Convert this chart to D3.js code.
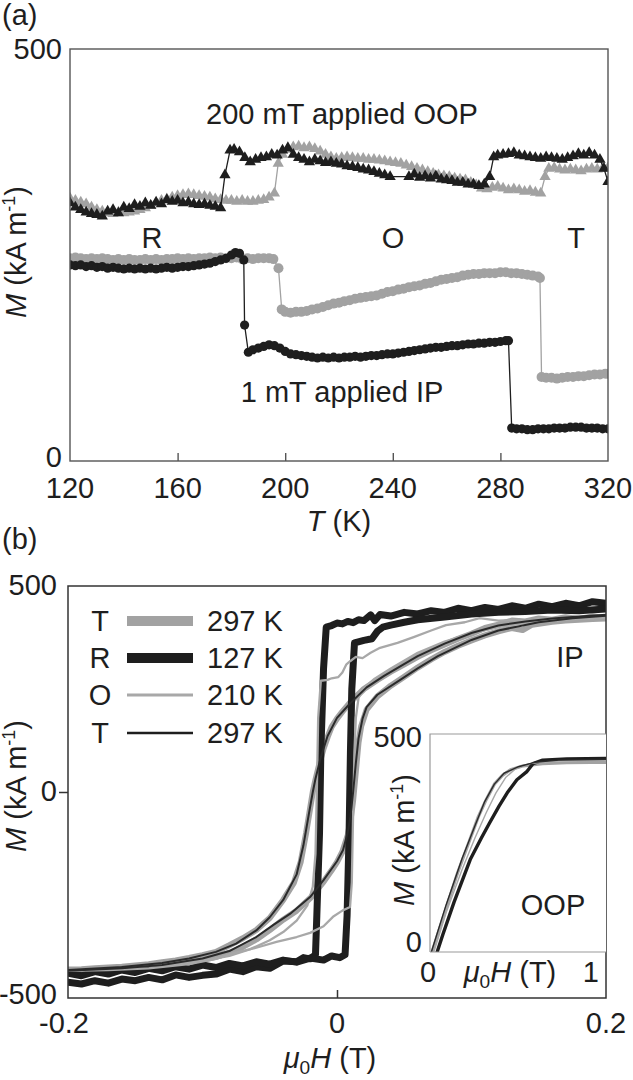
<!DOCTYPE html>
<html><head><meta charset="utf-8">
<script src="https://cdn.jsdelivr.net/npm/d3@7"></script>
<style>
body{margin:0;background:#fff}
svg{display:block}
text{font-family:"Liberation Sans",Arial,Helvetica,sans-serif;fill:#1e1e1e}
</style>
</head><body>
<svg id="chart" width="633" height="1080"></svg>
<script>
// ---------- Panel (a): M vs T ----------
const tTicksA = [120,160,200,240,280,320];
const mTicksA = [0,500];

const oopBlackT = [120,122,124,126,128,130,132,134,136,138,140,142,144,146,148,150,152,154,156,158,160,162,164,166,168,170,172,174,176,177.6,179.5,181,183,185,187,189,191,193,195,197,199,201,203,205,207,209,211,213,215,217,219,221,223,225,227,229,231,233,235,237,239,246,248,250,252,254,256,258,260,262,264,266,268,270,272,274,276,277.5,279,281,283,285,287,289,291,293,295,297,299,301,303,305,307,309,311,313,315,317,318.5,320];
const oopBlackM = [313,308,305,302,300,299,297,303,305,301,308,306,311,309,313,310,314,312,317,315,316,313,314,312,311,312,310,309,307,347,377,378,375,368,363,366,368,369,372,371,377,380,372,368,366,363,366,364,362,363,361,360,358,357,356,354,353,351,349,347,345,345,348,344,346,343,346,342,341,340,338,338,336,336,334,336,345,369,371,372,373,374,371,370,369,368,367,369,368,367,366,368,370,373,371,374,371,366,355,339];

const oopGrayT = [120,122,124,126,128,130,132,134,136,138,140,142,144,146,148,150,152,154,156,158,160,162,164,166,168,170,172,174,176,178,180,182,184,186,188,190,192,194,196,197.4,199,201,203,205,207,209,211,213,215,217,219,221,223,225,227,229,231,233,235,237,239,241,243,245,247,249,251,253,255,257,259,261,263,265,267,269,271,273,275,277,279,281,283,285,287,289,291,293,295,296.6,298,300,302,304,306,308,310,312,314,316,318,320];
const oopGrayM = [319,316,314,312,308,305,303,301,300,302,301,302,303,305,307,310,313,316,318,320,322,323,324,323,322,321,320,318,317,316,316,315,316,315,315,316,317,320,325,361,372,378,381,382,380,381,379,376,372,369,367,368,369,368,367,367,366,366,365,364,363,362,361,359,357,355,353,351,349,347,346,345,343,342,341,338,335,331,330,332,333,331,329,330,329,327,328,326,325,345,355,356,354,353,354,353,352,354,355,354,355,356];

const ipBlackT = [120,122,124,126,128,130,132,134,136,138,140,142,144,146,148,150,152,154,156,158,160,162,164,166,168,170,172,174,176,178,180,181.5,183,184.6,184.9,186.3,188,190,192,194,196,198,200,202,204,206,208,210,212,214,216,218,220,222,224,226,228,230,232,234,236,238,240,242,244,246,248,250,252,254,256,258,260,262,264,266,268,270,272,274,276,278,280,282,283,284.2,286,288,290,292,294,296,298,300,302,304,306,308,310,312,314,316,318,320];
const ipBlackM = [238,237,238,236,237,235,236,234,235,234,233,234,233,234,233,234,233,234,235,234,235,236,236,237,238,239,240,242,244,246,250,253,252,244,165,132,135,137,139,141,140,137,133,130,129,128,127,126,125,126,125,126,125,126,126,127,126,127,128,128,129,130,130,131,132,133,134,135,136,137,138,138,139,140,140,141,142,142,143,143,144,144,145,146,146,40,39,39,38,38,39,39,39,40,40,40,41,41,41,40,40,40,39,39];

const ipGrayT = [120,122,124,126,128,130,132,134,136,138,140,142,144,146,148,150,152,154,156,158,160,162,164,166,168,170,172,174,176,178,180,182,184,186,188,190,192,194,195.6,197.5,198.7,200,202,204,206,208,210,212,214,216,218,220,222,224,226,228,230,232,234,236,238,240,242,244,246,248,250,252,254,256,258,260,262,264,266,268,270,272,274,276,278,280,282,284,286,288,290,292,294,294.7,295.3,297,299,301,303,305,307,309,311,313,315,317,319,320];
const ipGrayM = [246,247,246,245,246,245,246,245,244,245,244,245,244,244,245,244,245,244,245,245,246,245,246,245,246,246,247,246,247,246,246,247,245,246,245,246,246,246,245,234,184,181,180,181,181,182,184,185,187,189,191,192,194,195,197,198,199,200,201,203,205,206,208,209,211,212,213,215,216,218,220,221,222,223,225,226,227,227,228,228,228,229,229,228,228,227,226,225,224,222,102,101,101,100,101,102,102,103,103,104,105,105,106,106];

// ---------- Panel (b): M vs mu0H, in-plane loops ----------
const hTicksB = [-0.2,0,0.2];
const mTicksB = [-500,0,500];

const t297GrayDesc = [[0.200,422],[0.190,426],[0.180,420],[0.170,424],[0.160,418],[0.150,421],[0.140,414],[0.130,416],[0.120,406],[0.110,398],[0.100,384],[0.090,372],[0.080,358],[0.070,344],[0.060,328],[0.050,310],[0.040,292],[0.030,272],[0.020,250],[0.010,218],[0.004,195],[0.000,178],[-0.004,158],[-0.007,133],[-0.010,105],[-0.013,70],[-0.016,30],[-0.018,0],[-0.020,-40],[-0.023,-100],[-0.027,-170],[-0.032,-220],[-0.040,-262],[-0.050,-306],[-0.060,-335],[-0.070,-355],[-0.080,-372],[-0.090,-388],[-0.100,-396],[-0.110,-403],[-0.120,-409],[-0.130,-413],[-0.140,-418],[-0.150,-421],[-0.160,-424],[-0.170,-426],[-0.180,-428],[-0.190,-430],[-0.200,-431]];
const t297GrayAsc = [[-0.200,-433],[-0.180,-431],[-0.160,-428],[-0.140,-424],[-0.120,-418],[-0.100,-408],[-0.090,-400],[-0.080,-390],[-0.070,-376],[-0.060,-358],[-0.050,-335],[-0.040,-310],[-0.030,-288],[-0.020,-258],[-0.010,-218],[-0.004,-190],[0.000,-170],[0.004,-145],[0.008,-105],[0.010,-70],[0.012,-20],[0.014,50],[0.016,120],[0.018,160],[0.022,200],[0.030,232],[0.040,258],[0.050,280],[0.060,302],[0.070,322],[0.080,340],[0.090,355],[0.100,368],[0.110,380],[0.120,390],[0.130,398],[0.138,393],[0.145,406],[0.160,413],[0.170,416],[0.180,418],[0.190,420],[0.200,421]];

const r127Desc = [[0.200,458],[0.190,462],[0.180,452],[0.170,458],[0.160,450],[0.150,456],[0.140,446],[0.130,452],[0.120,443],[0.110,448],[0.100,440],[0.090,446],[0.080,436],[0.070,440],[0.060,432],[0.050,436],[0.040,427],[0.032,431],[0.028,416],[0.025,430],[0.020,416],[0.016,418],[0.012,411],[0.008,414],[0.004,408],[0.000,410],[-0.004,404],[-0.008,400],[-0.010,300],[-0.012,100],[-0.013,-100],[-0.015,-300],[-0.016,-395],[-0.020,-405],[-0.025,-402],[-0.030,-412],[-0.040,-410],[-0.050,-428],[-0.060,-424],[-0.070,-436],[-0.080,-430],[-0.090,-442],[-0.100,-445],[-0.110,-450],[-0.120,-444],[-0.130,-456],[-0.140,-450],[-0.150,-458],[-0.160,-454],[-0.170,-464],[-0.180,-458],[-0.190,-466],[-0.200,-462]];
const r127Asc = [[-0.200,-440],[-0.190,-446],[-0.180,-436],[-0.170,-442],[-0.160,-432],[-0.150,-438],[-0.140,-428],[-0.130,-434],[-0.120,-424],[-0.110,-430],[-0.100,-420],[-0.090,-426],[-0.080,-416],[-0.070,-422],[-0.060,-412],[-0.050,-418],[-0.040,-408],[-0.030,-413],[-0.020,-403],[-0.010,-408],[-0.004,-398],[0.002,-402],[0.006,-395],[0.0075,-300],[0.009,-100],[0.010,100],[0.011,250],[0.013,362],[0.020,368],[0.026,372],[0.030,390],[0.034,400],[0.040,405],[0.050,412],[0.060,418],[0.080,425],[0.100,432],[0.120,436],[0.140,438],[0.160,442],[0.180,440],[0.200,444]];

const o210Desc = [[0.200,425],[0.185,420],[0.170,426],[0.160,418],[0.150,422],[0.143,413],[0.135,418],[0.120,416],[0.106,422],[0.095,412],[0.081,405],[0.070,392],[0.057,376],[0.045,362],[0.032,350],[0.025,338],[0.019,325],[0.014,328],[0.010,318],[0.007,310],[0.004,290],[0.001,279],[-0.004,276],[-0.007,272],[-0.012,270],[-0.014,180],[-0.015,0],[-0.016,-150],[-0.018,-230],[-0.022,-275],[-0.030,-312],[-0.040,-340],[-0.050,-360],[-0.065,-382],[-0.080,-398],[-0.100,-410],[-0.120,-418],[-0.150,-425],[-0.180,-429],[-0.200,-431]];
const o210Asc = [[-0.200,-434],[-0.170,-432],[-0.140,-428],[-0.110,-418],[-0.090,-405],[-0.077,-391],[-0.060,-378],[-0.045,-364],[-0.030,-352],[-0.020,-342],[-0.010,-326],[-0.003,-303],[0.004,-288],[0.0097,-279],[0.011,-220],[0.012,-50],[0.013,100],[0.014,180],[0.016,228],[0.020,252],[0.028,275],[0.040,300],[0.060,338],[0.080,365],[0.100,385],[0.120,400],[0.140,410],[0.160,415],[0.180,420],[0.200,423]];

const t297BlackDesc = [[0.200,430],[0.180,426],[0.160,421],[0.140,414],[0.120,404],[0.100,386],[0.080,360],[0.060,330],[0.047,305],[0.035,282],[0.022,254],[0.010,216],[0.000,180],[-0.007,136],[-0.012,85],[-0.016,32],[-0.018,0],[-0.021,-55],[-0.025,-130],[-0.030,-200],[-0.040,-262],[-0.050,-304],[-0.060,-336],[-0.075,-368],[-0.090,-388],[-0.110,-404],[-0.130,-415],[-0.160,-425],[-0.200,-432]];
const t297BlackAsc = [[-0.200,-434],[-0.160,-428],[-0.130,-420],[-0.100,-404],[-0.080,-386],[-0.060,-352],[-0.047,-322],[-0.035,-296],[-0.020,-255],[-0.010,-214],[0.000,-168],[0.0045,-141],[0.008,-98],[0.010,-60],[0.012,0],[0.014,70],[0.016,130],[0.019,178],[0.022,206],[0.030,236],[0.047,272],[0.060,300],[0.075,330],[0.100,369],[0.120,392],[0.150,412],[0.175,422],[0.200,428]];

const legendLetters = ["T","R","O","T"];
const legendTemps = ["297 K","127 K","210 K","297 K"];

// ---------- Inset: out-of-plane ----------
const hTicksInset = [0,1];
const mTicksInset = [0,500];
const insetGrayThick = [[0.00,-15],[0.03,20],[0.10,100],[0.17,180],[0.24,250],[0.30,310],[0.35,350],[0.40,385],[0.45,405],[0.50,418],[0.58,427],[0.70,432],[0.85,434],[1.00,435],[1.10,435]];
const insetGrayThin = [[0.02,-5],[0.10,90],[0.20,190],[0.28,262],[0.35,320],[0.41,365],[0.47,400],[0.53,420],[0.62,432],[0.80,438],[1.10,440]];
const insetBlackThin = [[0.00,-10],[0.10,108],[0.20,215],[0.28,290],[0.34,345],[0.40,385],[0.46,410],[0.55,425],[0.65,435],[0.80,440],[1.10,442]];
const insetBlackThick = [[0.04,-5],[0.08,40],[0.15,115],[0.25,212],[0.32,262],[0.37,296],[0.43,335],[0.48,365],[0.54,395],[0.60,413],[0.64,432],[0.70,440],[0.85,443],[1.10,444]];

// ---------- drawing ----------
const svg = d3.select("#chart");
const GRAY = "#a2a2a2", BLACK = "#1e1e1e", FS = 29;

function yTitle(g, x, y, size) {
  const t = g.append("text").attr("transform", `translate(${x},${y}) rotate(-90)`)
    .attr("text-anchor", "middle").attr("font-size", size);
  t.append("tspan").attr("font-style", "italic").text("M");
  t.append("tspan").text(" (kA m");
  t.append("tspan").attr("font-size", size * 0.62).attr("dy", -size * 0.38).text("-1");
  t.append("tspan").attr("dy", size * 0.38).text(")");
}
function muH(g, x, y, size, anchor) {
  const t = g.append("text").attr("x", x).attr("y", y).attr("text-anchor", anchor).attr("font-size", size);
  t.append("tspan").attr("font-style", "italic").text("μ");
  t.append("tspan").attr("font-size", size * 0.66).attr("dy", size * 0.2).text("0");
  t.append("tspan").attr("font-style", "italic").attr("dy", -size * 0.2).text("H");
  t.append("tspan").text(" (T)");
}

// Panel (a)
const xA = d3.scaleLinear().domain([120, 320]).range([70, 608]);
const yA = d3.scaleLinear().domain([0, 500]).range([461, 49]);
const gA = svg.append("g");
svg.append("defs").append("clipPath").attr("id", "clipA").append("rect")
  .attr("x", 70).attr("y", 49).attr("width", 538).attr("height", 412);

gA.append("text").attr("x", 2).attr("y", 25).attr("font-size", FS).text("(a)");

const plotA = gA.append("g").attr("clip-path", "url(#clipA)");
const lineA = d3.line().x(d => xA(d[0])).y(d => yA(d[1]));
function zip(a, b) { return a.map((v, i) => [v, b[i]]); }
const tri = d3.symbol().type(d3.symbolTriangle).size(55);

function seriesA(T, M, color, kind) {
  const pts = zip(T, M);
  plotA.append("path").datum(pts).attr("d", lineA).attr("fill", "none")
    .attr("stroke", color).attr("stroke-width", 1.3);
  if (kind === "tri") {
    plotA.append("g").selectAll("path").data(pts).join("path").attr("d", tri)
      .attr("transform", d => `translate(${xA(d[0])},${yA(d[1])})`).attr("fill", color);
  } else {
    plotA.append("g").selectAll("circle").data(pts).join("circle")
      .attr("cx", d => xA(d[0])).attr("cy", d => yA(d[1]))
      .attr("r", color === GRAY ? 5 : 4.6).attr("fill", color);
  }
}
seriesA(oopGrayT, oopGrayM, GRAY, "tri");
seriesA(oopBlackT, oopBlackM, BLACK, "tri");
seriesA(ipGrayT, ipGrayM, GRAY, "circle");
seriesA(ipBlackT, ipBlackM, BLACK, "circle");

gA.append("rect").attr("x", 70).attr("y", 49).attr("width", 538).attr("height", 412)
  .attr("fill", "none").attr("stroke", "#555").attr("stroke-width", 1.4);

// x ticks (inward) and labels
gA.append("g").attr("transform", "translate(0,461)")
  .call(d3.axisBottom(xA).tickValues(tTicksA.slice(1, -1)).tickSize(-8).tickFormat(""))
  .call(g => g.select(".domain").remove())
  .call(g => g.selectAll("line").attr("stroke", "#555").attr("stroke-width", 1.4));
gA.append("g").selectAll("text").data(tTicksA).join("text")
  .attr("x", d => xA(d)).attr("y", 498).attr("text-anchor", "middle").attr("font-size", FS).text(d => d);
gA.append("g").selectAll("text").data(mTicksA).join("text")
  .attr("x", 62).attr("y", d => d === 0 ? yA(d) + 6 : yA(d) + 10).attr("text-anchor", "end").attr("font-size", FS).text(d => d);

const tt = gA.append("text").attr("x", 339).attr("y", 531).attr("text-anchor", "middle").attr("font-size", FS);
tt.append("tspan").attr("font-style", "italic").text("T");
tt.append("tspan").text(" (K)");
yTitle(gA, 26, 252, FS);

gA.append("text").attr("x", 342).attr("y", 124).attr("text-anchor", "middle").attr("font-size", FS).text("200 mT applied OOP");
gA.append("text").attr("x", 342).attr("y", 402).attr("text-anchor", "middle").attr("font-size", FS).text("1 mT applied IP");
[["R", 152], ["O", 393], ["T", 576]].forEach(([s, x]) =>
  gA.append("text").attr("x", x).attr("y", 248).attr("text-anchor", "middle").attr("font-size", FS).text(s));

// Panel (b)
const xB = d3.scaleLinear().domain([-0.2, 0.2]).range([68, 606]);
const yB = d3.scaleLinear().domain([-500, 500]).range([998, 586]);
const gB = svg.append("g");
svg.select("defs").append("clipPath").attr("id", "clipB").append("rect")
  .attr("x", 68).attr("y", 586).attr("width", 538).attr("height", 412);
gB.append("text").attr("x", 2).attr("y", 549).attr("font-size", FS).text("(b)");

const plotB = gB.append("g").attr("clip-path", "url(#clipB)");
const lineB = d3.line().x(d => xB(d[0])).y(d => yB(d[1]));
function loopB(data, color, w) {
  plotB.append("path").datum(data).attr("d", lineB).attr("fill", "none")
    .attr("stroke", color).attr("stroke-width", w)
    .attr("stroke-linejoin", "round").attr("stroke-linecap", "round");
}
loopB(t297GrayDesc, GRAY, 6);
loopB(t297GrayAsc, GRAY, 6);
loopB(r127Desc, BLACK, 7);
loopB(r127Asc, BLACK, 7);
loopB(o210Desc, "#a8a8a8", 2.3);
loopB(o210Asc, "#a8a8a8", 2.3);
loopB(t297BlackDesc, "#2a2a2a", 2);
loopB(t297BlackAsc, "#2a2a2a", 2);

gB.append("rect").attr("x", 68).attr("y", 586).attr("width", 538).attr("height", 412)
  .attr("fill", "none").attr("stroke", "#333").attr("stroke-width", 1.5);
gB.append("g").attr("transform", "translate(0,998)")
  .call(d3.axisBottom(xB).tickValues([0]).tickSize(-8).tickFormat(""))
  .call(g => g.select(".domain").remove())
  .call(g => g.selectAll("line").attr("stroke", "#333").attr("stroke-width", 1.5));
gB.append("g").attr("transform", "translate(68,0)")
  .call(d3.axisLeft(yB).tickValues([0]).tickSize(9).tickFormat(""))
  .call(g => g.select(".domain").remove())
  .call(g => g.selectAll("line").attr("stroke", "#333").attr("stroke-width", 1.5));
gB.append("g").selectAll("text").data(hTicksB).join("text")
  .attr("x", d => xB(d) - (d < 0 ? 4 : 0)).attr("y", 1033).attr("text-anchor", "middle").attr("font-size", FS)
  .text(d => d === 0 ? "0" : d);
gB.append("g").selectAll("text").data(mTicksB).join("text")
  .attr("x", 57).attr("y", d => d === -500 ? yB(d) + 6 : yB(d) + 9).attr("text-anchor", "end").attr("font-size", FS).text(d => d);
muH(gB, 330, 1068, FS, "middle");
yTitle(gB, 26, 786, FS);
gB.append("text").attr("x", 570).attr("y", 667).attr("text-anchor", "middle").attr("font-size", FS).text("IP");

// legend
const legW = [10, 10, 3, 2.5];
const legC = [GRAY, BLACK, "#a8a8a8", BLACK];
const legBase = [631, 668, 705, 743];
legendLetters.forEach((L, i) => {
  gB.append("text").attr("x", 100).attr("y", legBase[i]).attr("text-anchor", "middle").attr("font-size", FS).text(L);
  gB.append("line").attr("x1", 127).attr("x2", 193).attr("y1", legBase[i] - 10).attr("y2", legBase[i] - 10)
    .attr("stroke", legC[i]).attr("stroke-width", legW[i]);
  gB.append("text").attr("x", 207).attr("y", legBase[i]).attr("font-size", FS).text(legendTemps[i]);
});

// Inset
const xI = d3.scaleLinear().domain([0, 1.1]).range([430, 607]);
const yI = d3.scaleLinear().domain([0, 500]).range([952, 734]);
const gI = svg.append("g");
svg.select("defs").append("clipPath").attr("id", "clipI").append("rect")
  .attr("x", 430).attr("y", 734).attr("width", 176).attr("height", 218);
gI.append("rect").attr("x", 430).attr("y", 734).attr("width", 176).attr("height", 218).attr("fill", "#fff");
const plotI = gI.append("g").attr("clip-path", "url(#clipI)");
const lineI = d3.line().x(d => xI(d[0])).y(d => yI(d[1]));
[[insetGrayThick, GRAY, 3.2], [insetBlackThick, BLACK, 3.4], [insetGrayThin, "#a8a8a8", 1.4], [insetBlackThin, "#2a2a2a", 1.4]]
  .forEach(([d, c, w]) => plotI.append("path").datum(d).attr("d", lineI).attr("fill", "none")
    .attr("stroke", c).attr("stroke-width", w).attr("stroke-linejoin", "round"));
gI.append("path").attr("d", "M430,952V734H606").attr("fill", "none").attr("stroke", "#999").attr("stroke-width", 1.2);
gI.append("line").attr("x1", 430).attr("x2", 606).attr("y1", 952).attr("y2", 952).attr("stroke", "#999").attr("stroke-width", 1.2);
gI.append("g").selectAll("text").data(mTicksInset).join("text")
  .attr("x", 422).attr("y", d => d === 0 ? yI(d) : yI(d) + 13).attr("text-anchor", "end").attr("font-size", FS).text(d => d);
gI.append("g").selectAll("text").data(hTicksInset).join("text")
  .attr("x", d => xI(d) - (d === 0 ? 2 : 0)).attr("y", 982).attr("text-anchor", "middle").attr("font-size", FS).text(d => d);
muH(gI, 510, 982, FS, "middle");
yTitle(gI, 414, 840, FS);
gI.append("text").attr("x", 553).attr("y", 915).attr("text-anchor", "middle").attr("font-size", FS).text("OOP");
</script>
</body></html>
